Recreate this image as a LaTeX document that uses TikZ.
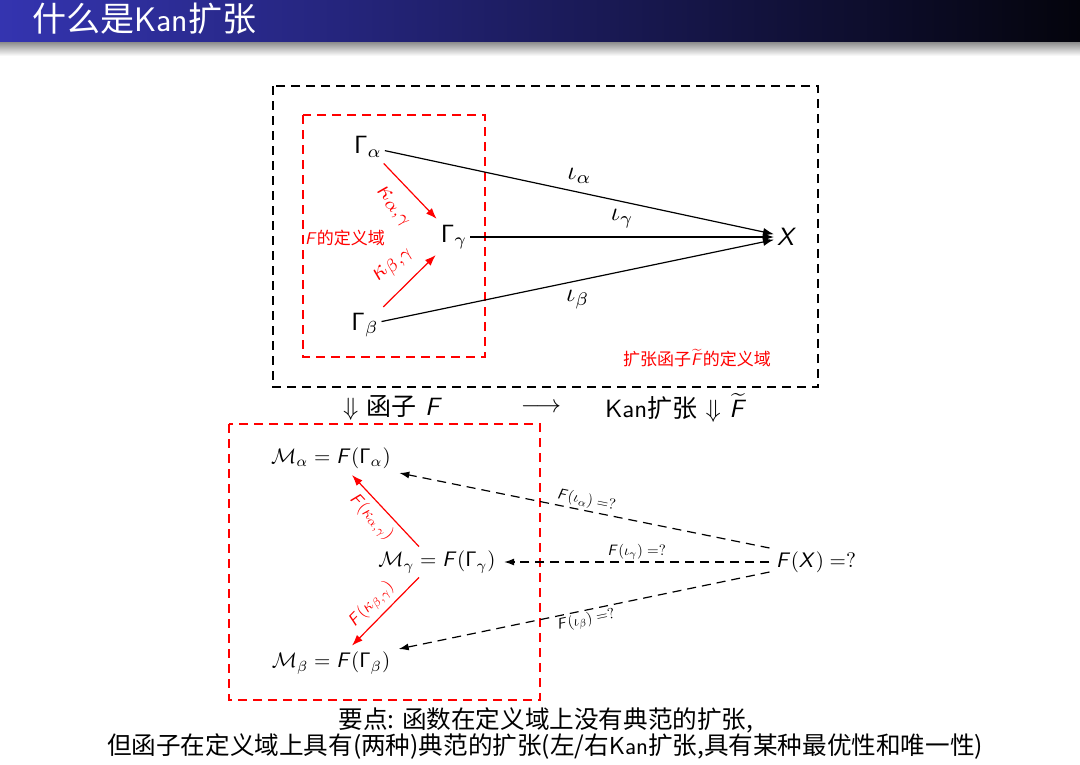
\documentclass[tikz,border=0pt]{standalone}
\usepackage[no-math]{fontspec}
\newfontfamily\cjk{Noto Sans CJK SC}
\renewcommand\familydefault{\sfdefault}
\DeclareMathAlphabet{\mathsfup}{OT1}{cmss}{m}{n}
\DeclareMathAlphabet{\mathsfit}{OT1}{cmss}{m}{sl}
\newcommand\SGam{\mathsfup{\Gamma}}
\newcommand\SF{\mathsfit{F}}
\newcommand\SX{\mathsfit{X}}
\usetikzlibrary{arrows.meta,calc}
\definecolor{titleL}{RGB}{52,52,176}
\definecolor{titleR}{RGB}{4,4,12}
\tikzset{
  big/.style={scale=2.5, transform shape, inner sep=1pt},
  mid/.style={scale=2.1, transform shape, inner sep=1pt},
  lbl/.style={scale=2.6, transform shape, inner sep=1pt},
  redk/.style={scale=2.5, transform shape, inner sep=1pt, text=red},
  redF/.style={scale=1.7, transform shape, inner sep=1pt, text=red},
  small/.style={scale=1.5, transform shape, inner sep=1pt},
  redsmall/.style={scale=1.7, transform shape, inner sep=1pt, text=red},
  arr/.style={line width=1.2pt, -{Latex[length=11pt,width=8pt]}},
  redarr/.style={line width=1.2pt, red, -{Latex[length=11pt,width=8pt]}},
  dasharr/.style={line width=1.2pt, dash pattern=on 9pt off 6pt, -{Latex[length=10pt,width=7pt]}},
  bbox/.style={line width=1.2pt, dash pattern=on 9pt off 6pt},
  rbox/.style={line width=1.2pt, dash pattern=on 9pt off 6pt, red},
}
\begin{document}
\begin{tikzpicture}[x=1pt,y=-1pt]
\useasboundingbox (0,0) rectangle (1080,764);
\fill[white] (0,0) rectangle (1080,764);
% title bar
\shade[left color=titleL, right color=titleR] (0,0) rectangle (1080,42);
\shade[top color=black!45, bottom color=white] (0,42) rectangle (1080,56);
\node[anchor=base west, text=white, font=\fontsize{34}{38}\selectfont, inner sep=0pt] (title) at (32,31) {{\cjk 什么是}Kan{\cjk 扩张}};
% boxes
\draw[bbox] (273,86) rectangle (818,387);
\draw[rbox] (303,115) rectangle (485,357);
\draw[rbox] (229,424) rectangle (540,700);
% upper diagram
\node[big] (Ga) at (368,147) {$\SGam_\alpha$};
\node[big] (Gg) at (454,237) {$\SGam_\gamma$};
\node[big] (Gb) at (365,325) {$\SGam_\beta$};
\node[big] (X) at (787,237) {$\SX$};
\draw[arr] (Ga) -- (X) node[lbl, midway, above=2pt] {$\iota_\alpha$};
\draw[arr] (Gg) -- (X) node[lbl, midway, above=2pt] {$\iota_\gamma$};
\draw[arr] (Gb) -- (X) node[lbl, midway, below=2pt] {$\iota_\beta$};
\draw[redarr, shorten <=4pt, shorten >=4pt] (Ga) -- (Gg) node[redk, midway, sloped, below=4pt] {$\kappa_{\alpha,\gamma}$};
\draw[redarr, shorten <=4pt, shorten >=4pt] (Gb) -- (Gg) node[redk, midway, sloped, above=4pt] {$\kappa_{\beta,\gamma}$};
\node[redsmall] (dom1) at (345,238) {$\SF${\cjk 的定义域}};
\node[redsmall] (dom2) at (697,358) {{\cjk 扩张函子}$\widetilde{\SF}${\cjk 的定义域}};
% middle row
\node[big] (r1) at (393,408) {$\Downarrow$ {\cjk 函子} $\SF$};
\node[big] (r2) at (541,408) {$\longrightarrow$};
\node[big] (r3) at (676,408) {Kan{\cjk 扩张} $\Downarrow$ $\widetilde{\SF}$};
% lower diagram
\node[mid] (Ma) at (331,458) {$\mathcal{M}_\alpha = \SF(\SGam_\alpha)$};
\node[mid] (Mg) at (437,562) {$\mathcal{M}_\gamma = \SF(\SGam_\gamma)$};
\node[mid] (Mb) at (331,663) {$\mathcal{M}_\beta = \SF(\SGam_\beta)$};
\node[mid] (FX) at (816,562) {$\SF(\SX) =?$};
\draw[redarr] ($(Mg.north)+(-18,-2)$) -- ($(Ma.south)+(21,4)$) node[redF, pos=0.55, sloped, below=2pt] {$\SF(\kappa_{\alpha,\gamma})$};
\draw[redarr] ($(Mg.south)+(-18,2)$) -- ($(Mb.north)+(21,-4)$) node[redF, pos=0.55, sloped, above=2pt] {$\SF(\kappa_{\beta,\gamma})$};
\draw[dasharr] ($(FX.west)+(-4,-14)$) -- ($(Ma.east)+(6,15)$) node[small, midway, sloped, above] {$\SF(\iota_\alpha) =?$};
\draw[dasharr] ($(FX.west)+(-4,0)$) -- ($(Mg.east)+(6,0)$) node[small, midway, above] {$\SF(\iota_\gamma) =?$};
\draw[dasharr] ($(FX.west)+(-4,10)$) -- ($(Mb.east)+(6,-14)$) node[small, midway, sloped, below] {$\SF(\iota_\beta) =?$};
% bottom text
\node[font=\fontsize{24.6}{28}\selectfont, inner sep=0pt] (t1) at (546,720) {\cjk 要点: 函数在定义域上没有典范的扩张,};
\node[font=\fontsize{24.6}{28}\selectfont, inner sep=0pt] (t2) at (545,746) {\cjk 但函子在定义域上具有(两种)典范的扩张(左/右\normalfont Kan\cjk 扩张,具有某种最优性和唯一性)};
\end{tikzpicture}
\end{document}
